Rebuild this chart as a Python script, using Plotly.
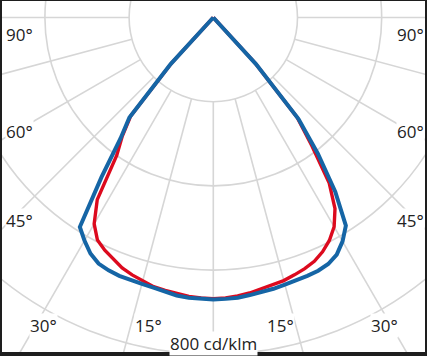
import numpy as np
import plotly.graph_objects as go

# ---- data (cd/klm), angles in degrees from nadir ----
gamma = [0, 2.5, 5, 7.5, 10, 12.5, 15, 17.5, 20, 22.5, 25, 27.5, 30, 32.5,
         35, 37.5, 40, 42.5, 45, 50, 60, 70, 80, 90]

blue_left = [670, 669, 668, 666, 662, 657, 655, 654, 653, 650, 645, 632, 612, 590,
             463, 362, 310, 150, 0, 0, 0, 0, 0, 0]
blue_right = [670, 669, 668, 665, 663, 660, 657, 655, 653, 651, 646, 635, 614, 586,
              505, 408, 315, 150, 0, 0, 0, 0, 0, 0]
red_left = [668, 667, 665, 661, 658, 655, 648, 641, 633, 621, 610, 596, 566, 513,
            400, 355, 305, 145, 0, 0, 0, 0, 0, 0]
red_right = [668, 667, 664, 660, 655, 651, 647, 641, 635, 627, 614, 597, 574, 538,
             480, 385, 310, 148, 0, 0, 0, 0, 0, 0]

ring_values = [200, 400, 600, 800, 1000]
spoke_angles = [-90, -75, -60, -45, -30, -15, 0, 15, 30, 45, 60, 75, 90]
angle_labels = ["90°", "60°", "45°", "30°", "15°"]
scale_label = "800 cd/klm"

BLUE = "#1565a5"
RED = "#dc0a1e"
GRID = "#d6d6d6"


def to_xy(angles_deg, values):
    a = np.radians(np.asarray(angles_deg, dtype=float))
    r = np.asarray(values, dtype=float)
    return r * np.sin(a), -r * np.cos(a)


def full_curve(left, right):
    ang = [-g for g in gamma[::-1]] + gamma[1:]
    val = left[::-1] + right[1:]
    return to_xy(ang, val)


fig = go.Figure()

# grid rings
for rv in ring_values:
    fig.add_shape(type="circle", xref="x", yref="y", x0=-rv, y0=-rv, x1=rv, y1=rv,
                  line=dict(color=GRID, width=1.6), layer="below")
# spokes
for sa in spoke_angles:
    xs, ys = to_xy([sa, sa], [ring_values[0], 3000])
    fig.add_shape(type="line", xref="x", yref="y", x0=xs[0], y0=ys[0], x1=xs[1], y1=ys[1],
                  line=dict(color=GRID, width=1.6), layer="below")

xr, yr = full_curve(red_left, red_right)
fig.add_trace(go.Scatter(x=xr, y=yr, mode="lines", line=dict(color=RED, width=3.4),
                         hoverinfo="skip", showlegend=False))
xb, yb = full_curve(blue_left, blue_right)
fig.add_trace(go.Scatter(x=xb, y=yb, mode="lines", line=dict(color=BLUE, width=4),
                         hoverinfo="skip", showlegend=False))

# pixel geometry
W, H = 427, 356
ML, MR, MT, MB = 2, 2, 1, 4
CX, CY = 213.3, 17.5
K = 200 / 84.2
pw, ph = W - ML - MR, H - MT - MB


def pap(px, py):
    return (px - ML) / pw, 1 - (py - MT) / ph


label_pos = {
    "90°": [(19, 34), (410, 34)],
    "60°": [(19, 131), (410, 131)],
    "45°": [(19, 221), (410, 220)],
    "30°": [(43, 325), (384, 325)],
    "15°": [(148, 325), (280, 325)],
}
font = dict(family="Open Sans, Noto Sans, sans-serif", size=17, color="#222222")
for lab in angle_labels:
    for (px, py) in label_pos[lab]:
        x, y = pap(px, py)
        fig.add_annotation(x=x, y=y, xref="paper", yref="paper", text=lab, showarrow=False,
                           font=font, bgcolor="white", borderpad=0,
                           xanchor="center", yanchor="middle")
x, y = pap(213.5, 343)
fig.add_annotation(x=x, y=y, xref="paper", yref="paper", text=scale_label, showarrow=False,
                   font=font, bgcolor="white", borderpad=0, xanchor="center", yanchor="middle")

fig.update_layout(
    width=W, height=H,
    margin=dict(l=ML, r=MR, t=MT, b=MB, pad=0),
    paper_bgcolor="#1e1e1e", plot_bgcolor="white",
    xaxis=dict(range=[(ML - CX) * K, (W - MR - CX) * K], visible=False, fixedrange=True),
    yaxis=dict(range=[-(H - MB - CY) * K, (CY - MT) * K], visible=False, fixedrange=True),
    showlegend=False,
)

fig.write_html("out.html", config={"displayModeBar": False},
               post_script="document.body.style.margin='0';document.body.style.overflow='hidden';")
